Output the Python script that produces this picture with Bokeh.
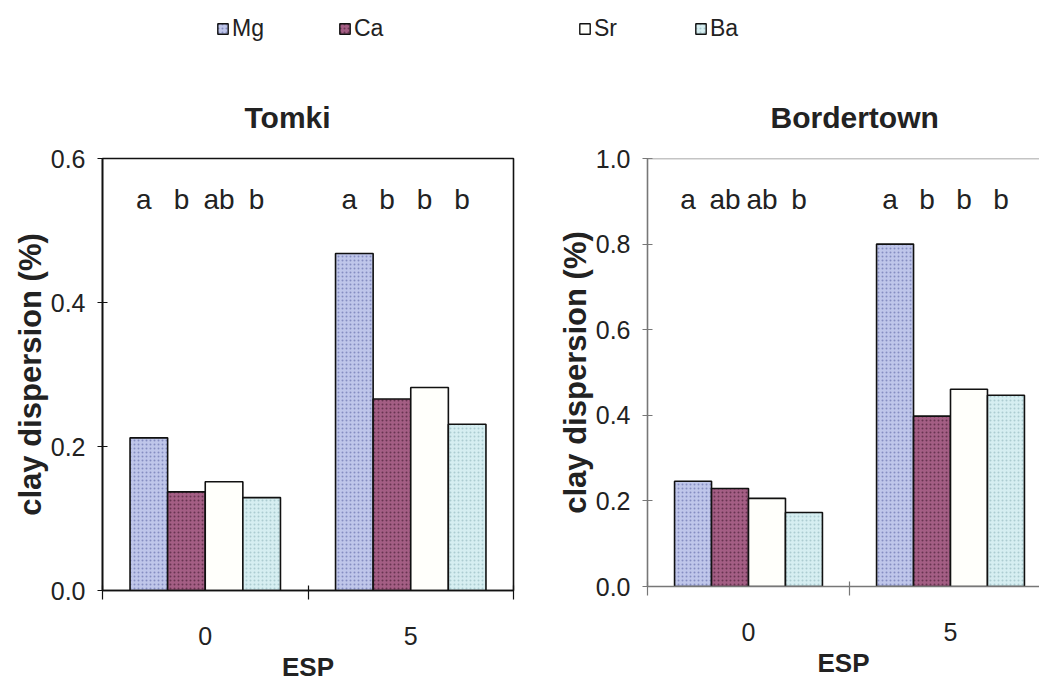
from bokeh.plotting import figure
from bokeh.layouts import row, column
from bokeh.models import FixedTicker, Legend, LegendItem, Span, NumeralTickFormatter
from bokeh.core.properties import value
from bokeh.embed import file_html
from bokeh.resources import INLINE

# ---------------- data ----------------
esp = ["0", "5"]
metals = ["Mg", "Ca", "Sr", "Ba"]

tomki_mg = [0.212, 0.468]
tomki_ca = [0.137, 0.266]
tomki_sr = [0.151, 0.282]
tomki_ba = [0.129, 0.231]

border_mg = [0.246, 0.800]
border_ca = [0.229, 0.398]
border_sr = [0.206, 0.461]
border_ba = [0.173, 0.447]

tomki_letters = [["a", "b", "ab", "b"], ["a", "b", "b", "b"]]
border_letters = [["a", "ab", "ab", "b"], ["a", "b", "b", "b"]]

tomki_yticks = [0.0, 0.2, 0.4, 0.6]
border_yticks = [0.0, 0.2, 0.4, 0.6, 0.8, 1.0]

# ---------------- styles ----------------
FONT = "Liberation Sans"
TXT = "#222222"
STY = {
    "Mg": dict(fill_color="#bfc6ea", hatch_pattern="dot", hatch_color="#5f67a6", hatch_scale=4, hatch_alpha=0.6),
    "Ca": dict(fill_color="#a45e84", hatch_pattern="dot", hatch_color="#40182e", hatch_scale=4, hatch_alpha=0.6),
    "Sr": dict(fill_color="#fffffb"),
    "Ba": dict(fill_color="#d6eef1", hatch_pattern="dot", hatch_color="#8fb6bd", hatch_scale=4, hatch_alpha=0.6),
}
BW = 0.183
TOP_H = 70

# ---------------- legend strip ----------------
# Hidden copies of the bars only serve as the legend's swatches.
lg = figure(frame_width=1039, frame_height=TOP_H, x_range=(-0.5, 1.5), y_range=(0, 1),
            output_backend="svg", toolbar_location=None,
            min_border_left=0, min_border_right=0, min_border_top=0, min_border_bottom=0,
            x_axis_location=None, y_axis_location=None,
            background_fill_color="white", border_fill_color="white")
lg.grid.visible = False
lg.outline_line_color = None
legend_pos = {"Mg": 216, "Ca": 338, "Sr": 578, "Ba": 694}
for i, (m, vals) in enumerate(zip(metals, [tomki_mg, tomki_ca, tomki_sr, tomki_ba])):
    xpos = [x + (i - 1.5) * BW for x in range(len(esp))]
    r = lg.vbar(x=xpos, top=vals, width=BW, line_color="#111111", line_width=1.4, **STY[m])
    r.visible = False
    leg = Legend(items=[LegendItem(label=m, renderers=[r])],
                 location=(legend_pos[m], TOP_H - 30 - 12), orientation="horizontal",
                 border_line_color=None, background_fill_alpha=0,
                 inactive_fill_alpha=0, click_policy="none",
                 padding=0, margin=0, spacing=0,
                 glyph_width=13, glyph_height=13, label_standoff=3,
                 label_text_font=FONT, label_text_font_size="23px",
                 label_text_color=TXT, label_height=24)
    lg.add_layout(leg, "center")


def make_panel(title, series, letters, yticks, ymax, xend, frame_w, frame_h,
               bl, br, bb, title_off, axis_col, outline):
    p = figure(frame_width=frame_w, frame_height=frame_h,
               x_range=(-0.5, xend), y_range=(0, ymax),
               output_backend="svg", toolbar_location=None,
               min_border_left=bl, min_border_right=br,
               min_border_top=158 - TOP_H, min_border_bottom=bb,
               background_fill_color="white", border_fill_color="white")
    p.grid.visible = False
    p.title.text = title
    p.title.align = "left"
    p.title.offset = title_off
    p.title.standoff = 50
    p.title.text_font = FONT
    p.title.text_font_size = "30px"
    p.title.text_font_style = "bold"
    p.title.text_color = TXT

    xs = list(range(len(esp)))
    for i, (m, vals) in enumerate(zip(metals, series)):
        xpos = [x + (i - 1.5) * BW for x in xs]
        p.vbar(x=xpos, top=vals, width=BW, bottom=0,
               line_color="#111111", line_width=1.6, **STY[m])
        p.text(x=xpos, y=[0.905 * ymax] * len(xs),
               text=[letters[g][i] for g in xs],
               text_font=value(FONT), text_font_size="28px",
               text_color=TXT, text_align="center", text_baseline="middle",
               x_offset=-5)

    # axes
    xa = p.xaxis[0]
    xa.ticker = FixedTicker(ticks=xs, minor_ticks=[x - 0.5 for x in xs] + [xs[-1] + 0.5])
    xa.major_label_overrides = {x: esp[x] for x in xs}
    xa.major_tick_in = 0
    xa.major_tick_out = 0
    xa.minor_tick_in = 5
    xa.minor_tick_out = 9
    xa.minor_tick_line_color = axis_col
    xa.minor_tick_line_width = 1.2
    xa.axis_line_color = axis_col
    xa.axis_line_width = 1.6
    xa.major_label_standoff = 27
    xa.major_label_text_font = FONT
    xa.major_label_text_font_size = "25px"
    xa.major_label_text_color = TXT
    xa.axis_label = "ESP"
    xa.axis_label_standoff = 4
    xa.axis_label_text_font = FONT
    xa.axis_label_text_font_size = "26px"
    xa.axis_label_text_font_style = "bold"
    xa.axis_label_text_color = TXT

    ya = p.yaxis[0]
    ya.ticker = FixedTicker(ticks=yticks)
    ya.formatter = NumeralTickFormatter(format="0.0")
    ya.major_tick_in = 5
    ya.major_tick_out = 5
    ya.major_tick_line_color = axis_col
    ya.minor_tick_line_color = None
    ya.axis_line_color = axis_col
    ya.axis_line_width = 1.6
    ya.major_label_standoff = 12
    ya.major_label_text_font = FONT
    ya.major_label_text_font_size = "25px"
    ya.major_label_text_color = TXT
    ya.axis_label = "clay dispersion (%)"
    ya.axis_label_standoff = 0
    ya.axis_label_text_font = FONT
    ya.axis_label_text_font_size = "31px"
    ya.axis_label_text_font_style = "bold"
    ya.axis_label_text_color = TXT

    if outline:
        p.outline_line_color = "#111111"
        p.outline_line_width = 1.6
    else:
        p.outline_line_color = None
        p.add_layout(Span(location=ymax, dimension="width",
                          line_color="#8a8a8a", line_width=1.6))
    return p


p1 = make_panel("Tomki", [tomki_mg, tomki_ca, tomki_sr, tomki_ba], tomki_letters,
                tomki_yticks, 0.6, 1.5, 411, 432, 102, 7, 93, 142, "#111111", True)
p2 = make_panel("Bordertown", [border_mg, border_ca, border_sr, border_ba], border_letters,
                border_yticks, 1.0, -0.5 + 392 / 202, 392, 428, 127, 0, 97, 123, "#777777", False)

layout = column(lg, row(p1, p2, spacing=0), spacing=0)
open("out.html", "w").write(file_html(layout, INLINE))
